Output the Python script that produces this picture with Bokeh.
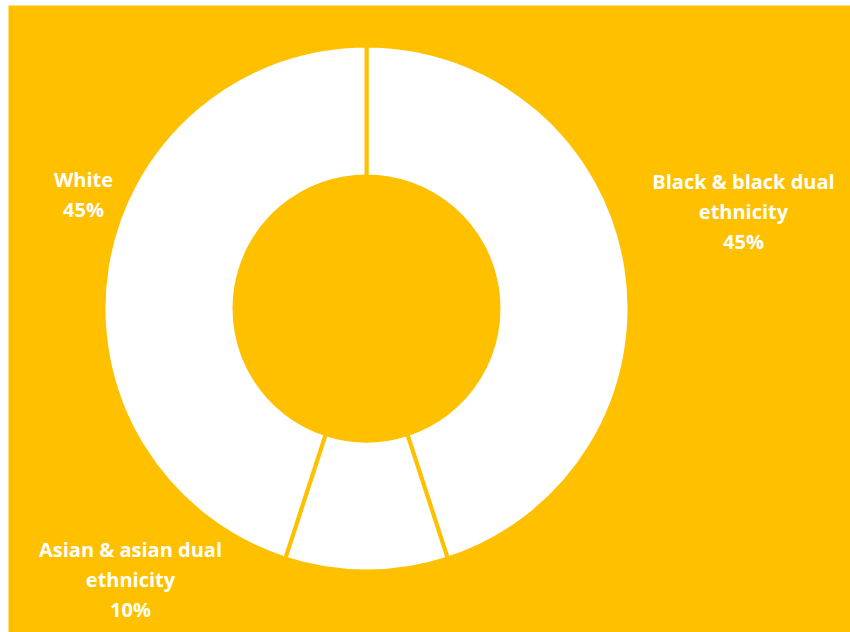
import math
from bokeh.plotting import figure
from bokeh.models import Range1d, ColumnDataSource
from bokeh.core.properties import value
from bokeh.embed import file_html
from bokeh.resources import INLINE

# ---- data ----
categories = ["Black & black dual ethnicity", "Asian & asian dual ethnicity", "White"]
shares = [45, 10, 45]
label_lines = [
    ["Black & black dual", "ethnicity", "45%"],
    ["Asian & asian dual", "ethnicity", "10%"],
    ["White", "45%"],
]

# ---- layout / style ----
YELLOW = "#FFC000"
W, H = 850, 632
CX, CY = 366, 632 - 308
R_OUT, R_IN = 261, 134
SEP = 4
# label block centres (x, y of first line) in page pixels
label_anchor = [(743, 632 - 181), (130, 632 - 549), (83, 632 - 179)]
LINE_H = 30

p = figure(width=W, height=H, output_backend="svg", toolbar_location=None,
           x_range=Range1d(8, 850), y_range=Range1d(0, 627),
           min_border_left=8, min_border_right=0, min_border_top=5, min_border_bottom=0)
p.axis.visible = False
p.grid.visible = False
p.outline_line_color = None
p.background_fill_color = YELLOW
p.border_fill_color = "white"

total = sum(shares)
starts, ends = [], []
cum = 0.0
for v in shares:
    starts.append(math.pi / 2 - 2 * math.pi * cum / total)
    cum += v
    ends.append(math.pi / 2 - 2 * math.pi * cum / total)

src = ColumnDataSource(dict(cat=categories, start=starts, end=ends))
p.annular_wedge(x=CX, y=CY, inner_radius=R_IN - SEP / 2, outer_radius=R_OUT + SEP / 2,
                start_angle="start", end_angle="end", direction="clock",
                fill_color="white", line_color=YELLOW, line_width=SEP, source=src)

xs, ys, texts = [], [], []
for lines, (ax, ay) in zip(label_lines, label_anchor):
    for i, t in enumerate(lines):
        xs.append(ax)
        ys.append(ay - i * LINE_H)
        texts.append(t)

p.text(x=xs, y=ys, text=texts, text_color="white", text_font=value("Open Sans"),
       text_font_style="bold", text_font_size="20px", text_align="center",
       text_baseline="middle")

open("out.html", "w").write(file_html(p, INLINE))
